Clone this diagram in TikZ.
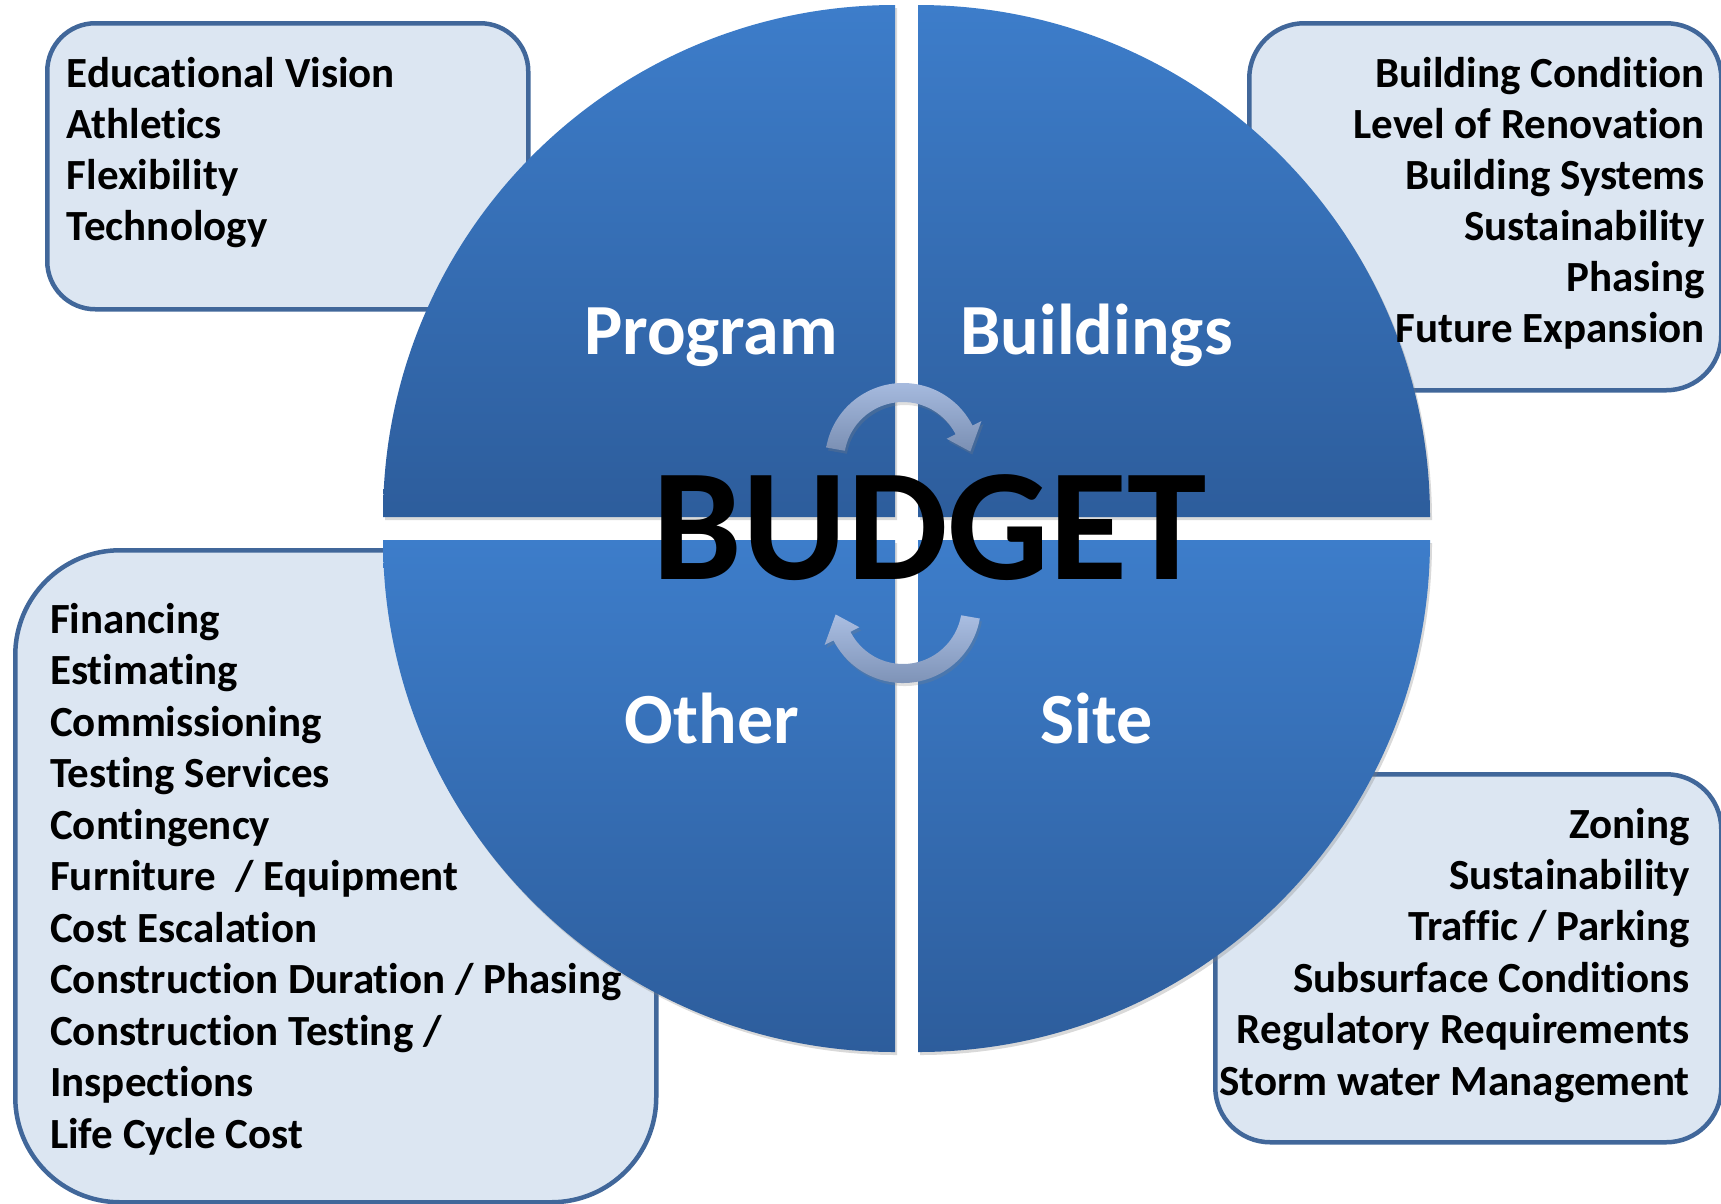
\documentclass[tikz,border=0pt]{standalone}
\usepackage{fontspec}
\setmainfont{Carlito}[Ligatures=NoCommon]
\usetikzlibrary{shadows}

\definecolor{boxfill}{HTML}{DCE6F2}
\definecolor{boxline}{HTML}{41679A}
\definecolor{quadlight}{HTML}{3D7DCA}
\definecolor{quaddark}{HTML}{2D5D9C}
\definecolor{arrlight}{HTML}{AABEE2}
\definecolor{arrdark}{HTML}{7A8FB3}

\tikzset{
  infobox/.style={draw=boxline, fill=boxfill, line width=4.5pt, anchor=north west, inner sep=0pt},
  itemtext/.style={font=\fontsize{43}{51}\selectfont\bfseries, inner sep=0pt},
  quad/.style={top color=quadlight, bottom color=quaddark,
    drop shadow={opacity=0.3, shadow xshift=2pt, shadow yshift=-3pt}},
  quadlabel/.style={font=\fontsize{72}{86}\selectfont\bfseries, text=white, anchor=base, inner sep=0pt},
  bigword/.style={font=\fontsize{160}{184}\selectfont\bfseries, anchor=base, inner sep=0pt},
  turnarrow/.style={top color=arrlight, bottom color=arrdark,
    drop shadow={opacity=0.25, shadow xshift=2pt, shadow yshift=-3pt}}
}

\begin{document}
\begin{tikzpicture}[x=1pt, y=-1pt]
  \useasboundingbox (0,0) rectangle (1721,1203);

  \node[infobox, rounded corners=48pt, minimum width=481pt, minimum height=286pt] (progbox) at (45,21) {};
  \node[infobox, rounded corners=55pt, minimum width=472pt, minimum height=367pt] (bldgbox) at (1247,21) {};
  \node[infobox, rounded corners=55pt, minimum width=506pt, minimum height=368pt] (sitebox) at (1213,772) {};
  \node[infobox, rounded corners=105pt, minimum width=641pt, minimum height=652pt] (otherbox) at (13,548) {};

  \coordinate (qtl) at (895,517);
  \coordinate (qtr) at (918,517);
  \coordinate (qbl) at (895,540);
  \coordinate (qbr) at (918,540);
  \path[quad] (qtl) -- ++(-512,0) arc[start angle=180, end angle=270, radius=512] -- cycle;
  \path[quad] (qtr) -- ++(0,-512) arc[start angle=270, end angle=360, radius=512] -- cycle;
  \path[quad] (qbl) -- ++(-512,0) arc[start angle=180, end angle=90, radius=512] -- cycle;
  \path[quad] (qbr) -- ++(512,0) arc[start angle=0, end angle=90, radius=512] -- cycle;

  \node[quadlabel] (program) at (711,354.5) {Program};
  \node[quadlabel] (buildings) at (1096.5,354.5) {Buildings};
  \node[quadlabel] (other) at (712,743) {Other};
  \node[quadlabel] (site) at (1096.5,743) {Site};

  \coordinate (topc) at (903,461);
  \coordinate (botc) at (903,605);
  \begin{scope}[shift={(topc)}]
    \path[turnarrow] (190:78) arc[start angle=190, end angle=333, radius=78] -- (333:88) -- (352:68)
      -- (333:49) -- (333:59) arc[start angle=333, end angle=190, radius=59] -- cycle;
  \end{scope}
  \begin{scope}[shift={(botc)}]
    \path[turnarrow] (10:78) arc[start angle=10, end angle=153, radius=78] -- (153:88) -- (172:68)
      -- (153:49) -- (153:59) arc[start angle=153, end angle=10, radius=59] -- cycle;
  \end{scope}

  \node[bigword] (budget) at (930,579.5) {BUDGET};

  \foreach \txt [count=\i] in {Educational Vision, Athletics, Flexibility, Technology}
    \node[itemtext, anchor=base west] (prog\i) at (66.5,{87+51*(\i-1)}) {\txt};
  \foreach \txt [count=\i] in {Building Condition, Level of Renovation, Building Systems,
      Sustainability, Phasing, Future Expansion}
    \node[itemtext, anchor=base east] (bldg\i) at (1705,{87+51*(\i-1)}) {\txt};
  \foreach \txt [count=\i] in {Zoning, Sustainability, {Traffic / Parking}, Subsurface Conditions,
      Regulatory Requirements, Storm water Management}
    \node[itemtext, anchor=base east] (site\i) at (1690,{838+51.4*(\i-1)}) {\txt};
  \foreach \txt [count=\i] in {Financing, Estimating, Commissioning, Testing Services, Contingency,
      {Furniture\ \ / Equipment}, Cost Escalation, {Construction Duration / Phasing},
      {Construction Testing /}, Inspections, Life Cycle Cost}
    \node[itemtext, anchor=base west] (other\i) at (50,{633+51.5*(\i-1)}) {\txt};
\end{tikzpicture}
\end{document}
